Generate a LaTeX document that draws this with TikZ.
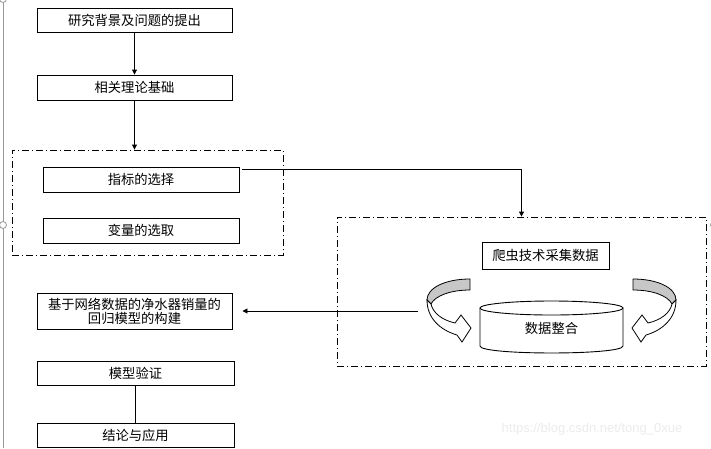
\documentclass[tikz,border=0pt]{standalone}
\usepackage{fontspec}
\setmainfont{Noto Sans CJK SC}
\setsansfont{Liberation Sans}
\usetikzlibrary{arrows.meta}

\begin{document}
\begin{tikzpicture}[x=1pt,y=-1pt,line width=0.9pt,>={Triangle[length=5pt,width=5pt]},
  box/.style={draw,minimum width=195pt,minimum height=24pt,inner sep=1pt,align=center,
    font=\fontsize{13.3}{14}\selectfont},
  group/.style={draw,dash pattern=on 7pt off 3pt on 1pt off 3pt,inner sep=0pt},
  turn/.pic={
    \filldraw[fill=black!22,line width=0.8pt] (0,0) .. controls (-25,0) and (-43,9) .. (-43,21)
      -- (-39,25) .. controls (-35,17) and (-20,11) .. (0,11) -- cycle;
    \filldraw[fill=white,line width=0.8pt] (-43,21) .. controls (-43,39) and (-30,51) .. (-13,56)
      -- (-8,63) -- (1,49) -- (-9,36) -- (-15,44) .. controls (-28,41) and (-37,34) .. (-39,25) -- cycle;
  }]
\useasboundingbox (0,0) rectangle (711,448);

% frame
\draw[black!40,line width=1pt] (3,0) -- (3,448);
\draw[black!40,fill=white,line width=0.8pt] (3,225) circle (3.5pt);
\draw[black!40,fill=white,line width=0.8pt] (3,-1) circle (3.5pt);
\draw[black!40,fill=white,line width=0.8pt] (714,225) circle (3.5pt);

% nodes
\node (a) [box] at (134.5,20) {研究背景及问题的提出};
\node (b) [box,minimum height=25pt] at (134.5,87.5) {相关理论基础};
\node (g) [group,minimum width=271pt,minimum height=105pt] at (147.5,202.5) {};
\node (c) [box,minimum width=196pt,minimum height=25pt] at (141,179.5) {指标的选择};
\node (d) [box,minimum width=196pt,minimum height=25pt] at (141,230.5) {变量的选取};
\node (h) [group,minimum width=369pt,minimum height=149pt] at (521.5,291.5) {};
\node (e) [box,minimum width=127pt,minimum height=27pt] at (545.5,255.5) {爬虫技术采集数据};
\node (m) [box,minimum height=36pt] at (134.5,311) {基于网络数据的净水器销量的\\回归模型的构建};
\node (v) [box,minimum width=197pt] at (135.5,373) {模型验证};
\node (k) [box,minimum width=197pt] at (135.5,435) {结论与应用};

% cylinder
\filldraw[fill=white] (480,308) -- (480,346) .. controls (480,355.3) and (623,355.3) .. (623,346)
  -- (623,308);
\draw (551.5,308) ellipse [x radius=71.5pt, y radius=7pt];
\node (f) [font=\fontsize{13.3}{14}\selectfont] at (551.5,328) {数据整合};
\pic at (470,279) {turn};
\pic[xscale=-1] at (633,279) {turn};

% arrows
\coordinate (p) at (242,169);
\coordinate (q) at (418,311);
\draw[<-] (b) -- (a);
\draw[<-] (b |- g.north) -- (b);
\draw[->] (p) -| (h);
\draw[->] (q) -- ([xshift=10pt]m.east);
\draw (v) -- (k);

% watermark
\node (w) [text=black!8,font=\sffamily\fontsize{13}{15}\selectfont] at (592,429) {https://blog.csdn.net/tong\_0xue};
\end{tikzpicture}
\end{document}
